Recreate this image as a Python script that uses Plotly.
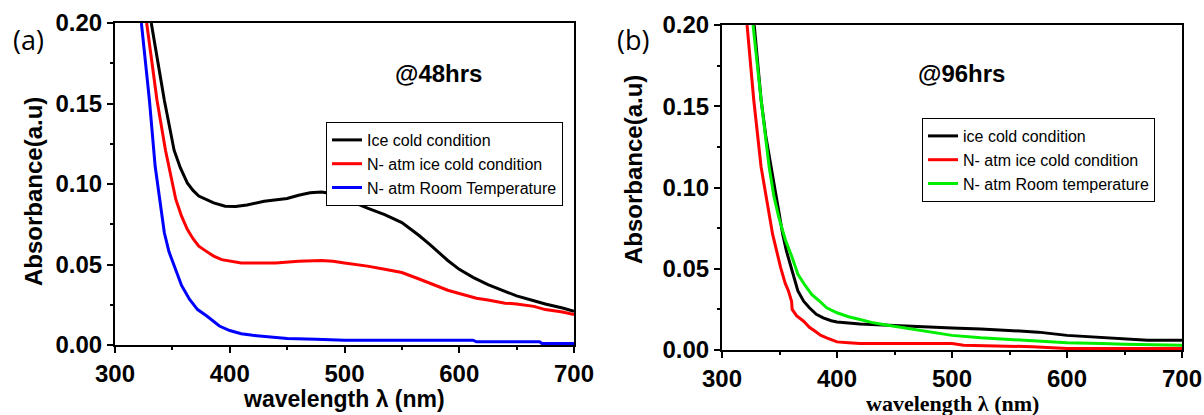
import plotly.graph_objects as go

# ---- Panel (a): 48 h ----
a_ice_x = [331.6, 337, 343, 351.5, 357, 363, 368, 373, 380, 386, 396, 405, 415, 430, 450, 460, 470,
           480, 490, 500, 510, 520, 535, 550, 565, 575, 590, 600, 612, 625, 640, 650, 665, 675, 690, 700]
a_ice_y = [0.200, 0.176, 0.152, 0.121, 0.110, 0.1007, 0.096, 0.0925, 0.090, 0.0883, 0.0862, 0.086,
           0.087, 0.0893, 0.091, 0.093, 0.0945, 0.095, 0.094, 0.0908, 0.0880, 0.0850, 0.0810, 0.0760,
           0.0680, 0.0620, 0.0525, 0.0470, 0.0420, 0.0375, 0.0330, 0.0305, 0.0275, 0.0255, 0.0230, 0.0210]

a_n2ice_x = [327.6, 332, 336.6, 344, 353, 358, 363, 368, 373, 380, 386, 393, 400, 410, 440, 450, 460,
             480, 490, 500, 520, 535, 550, 565, 575, 590, 600, 615, 625, 640, 650, 665, 675, 690, 700]
a_n2ice_y = [0.200, 0.176, 0.152, 0.121, 0.0904, 0.080, 0.0718, 0.066, 0.0614, 0.058, 0.0552, 0.053,
             0.052, 0.051, 0.051, 0.0515, 0.052, 0.0525, 0.052, 0.051, 0.049, 0.047, 0.045, 0.041,
             0.038, 0.034, 0.032, 0.029, 0.028, 0.026, 0.0255, 0.024, 0.022, 0.0205, 0.019]

a_n2rt_x = [323, 326.5, 330, 335, 339, 343, 347, 351.5, 358, 365, 372, 380, 391, 400, 410, 420, 435,
            450, 475, 500, 550, 600, 612, 615, 670, 672, 700]
a_n2rt_y = [0.200, 0.176, 0.152, 0.111, 0.090, 0.0697, 0.058, 0.049, 0.037, 0.0283, 0.022, 0.018,
            0.0118, 0.009, 0.007, 0.006, 0.005, 0.004, 0.0035, 0.003, 0.003, 0.003, 0.003, 0.002,
            0.002, 0.001, 0.001]

# ---- Panel (b): 96 h ----
b_ice_x = [328, 334, 338, 342.7, 348, 352.8, 356, 360, 363, 366, 371, 376, 382, 388, 395, 400, 420,
           450, 475, 500, 525, 550, 575, 600, 625, 650, 670, 700]
b_ice_y = [0.200, 0.154, 0.132, 0.1126, 0.091, 0.0713, 0.061, 0.0507, 0.043, 0.0363, 0.030, 0.026,
           0.022, 0.0198, 0.018, 0.0173, 0.016, 0.015, 0.0145, 0.0135, 0.013, 0.012, 0.011, 0.009,
           0.008, 0.007, 0.006, 0.006]

b_n2ice_x = [321.8, 327.6, 334, 339, 344, 351, 355, 357.8, 360, 360.5, 361, 365, 371, 376, 381, 386,
             391, 400, 410, 420, 500, 510, 570, 600, 700]
b_n2ice_y = [0.200, 0.154, 0.1126, 0.092, 0.0713, 0.0507, 0.041, 0.0363, 0.032, 0.030, 0.025, 0.021,
             0.0177, 0.014, 0.0115, 0.009, 0.0074, 0.005, 0.0045, 0.004, 0.004, 0.003, 0.002, 0.001,
             0.001]

b_n2rt_x = [327, 334, 341, 345, 349.4, 355, 361, 366, 372, 378, 385, 391, 400, 410, 420, 430, 440,
            455, 470, 485, 500, 525, 550, 575, 600, 630, 650, 700]
b_n2rt_y = [0.200, 0.154, 0.1126, 0.095, 0.0816, 0.068, 0.0569, 0.0466, 0.040, 0.0342, 0.030, 0.026,
            0.0229, 0.0205, 0.0188, 0.017, 0.0157, 0.014, 0.0125, 0.0105, 0.009, 0.0075, 0.0065,
            0.0055, 0.0045, 0.004, 0.0035, 0.003]

x_ticks = [300, 400, 500, 600, 700]
y_ticks = [0.00, 0.05, 0.10, 0.15, 0.20]

W, H = 1204, 415
LW = 3

fig = go.Figure()

series_a = [
    ("Ice cold condition", a_ice_x, a_ice_y, "#000000"),
    ("N- atm ice cold condition", a_n2ice_x, a_n2ice_y, "#ff0000"),
    ("N- atm Room Temperature", a_n2rt_x, a_n2rt_y, "#0000ff"),
]
series_b = [
    ("ice cold condition", b_ice_x, b_ice_y, "#000000"),
    ("N- atm ice cold condition", b_n2ice_x, b_n2ice_y, "#ff0000"),
    ("N- atm Room temperature", b_n2rt_x, b_n2rt_y, "#00ee00"),
]

for name, xs, ys, col in series_a:
    fig.add_trace(go.Scatter(x=xs, y=ys, mode="lines", name=name, xaxis="x", yaxis="y",
                             line=dict(color=col, width=LW), legend="legend"))
for name, xs, ys, col in series_b:
    fig.add_trace(go.Scatter(x=xs, y=ys, mode="lines", name=name, xaxis="x2", yaxis="y2",
                             line=dict(color=col, width=LW), legend="legend2"))

tickfont = dict(family="Liberation Sans", size=24, color="black", weight="bold")


def xaxis_style(domain, anchor):
    return dict(domain=domain, anchor=anchor, range=[300, 700], tickvals=x_ticks,
                automargin=False,
                showline=True, mirror=True, linecolor="black", linewidth=2,
                ticks="outside", ticklen=6, tickwidth=2, tickcolor="black",
                minor=dict(dtick=50, ticks="outside", ticklen=3, tickwidth=2, tickcolor="black"),
                showgrid=False, zeroline=False, tickfont=tickfont)


def yaxis_style(domain, anchor):
    return dict(domain=domain, anchor=anchor, range=[0, 0.2], tickvals=y_ticks, tickformat=".2f",
                automargin=False,
                showline=True, mirror=True, linecolor="black", linewidth=2,
                ticks="outside", ticklen=6, tickwidth=2, tickcolor="black",
                minor=dict(dtick=0.025, ticks="outside", ticklen=3, tickwidth=2, tickcolor="black"),
                showgrid=False, zeroline=False, tickfont=tickfont)


legend_common = dict(bgcolor="white", bordercolor="black", borderwidth=1,
                     font=dict(family="Liberation Sans", size=16, color="black"),
                     xanchor="left", yanchor="top", tracegroupgap=0, itemwidth=30)

fig.update_layout(
    template="none",
    width=W, height=H,
    margin=dict(l=0, r=0, t=0, b=0, pad=0),
    paper_bgcolor="white", plot_bgcolor="white",
    showlegend=True,
    xaxis=xaxis_style([115 / W, 574 / W], "y"),
    yaxis=yaxis_style([1 - 345 / H, 1 - 23 / H], "x"),
    xaxis2=xaxis_style([722 / W, 1182 / W], "y2"),
    yaxis2=yaxis_style([1 - 350 / H, 1 - 25 / H], "x2"),
    legend=dict(x=326 / W, y=1 - 122 / H, **legend_common),
    legend2=dict(x=922 / W, y=1 - 118 / H, **legend_common),
)

bold = dict(family="Liberation Sans", size=24, color="black", weight="bold")
annotations = [
    dict(text="(a)", x=28 / W, y=1 - 39 / H, font=dict(family="Open Sans", size=27, color="black")),
    dict(text="(b)", x=633 / W, y=1 - 40 / H, font=dict(family="Open Sans", size=27, color="black")),
    dict(text="@48hrs", x=438 / W, y=1 - 73 / H, font=bold),
    dict(text="@96hrs", x=961 / W, y=1 - 74 / H, font=bold),
    dict(text="Absorbance(a.u)", x=33 / W, y=1 - 192 / H, textangle=-90, font=bold),
    dict(text="Absorbance(a.u)", x=633 / W, y=1 - 170 / H, textangle=-90, font=bold),
    dict(text="wavelength λ (nm)", x=344 / W, y=1 - 399 / H,
         font=dict(family="Liberation Sans", size=23, color="black", weight="bold")),
    dict(text="wavelength λ (nm)", x=952 / W, y=1 - 403 / H,
         font=dict(family="Liberation Serif", size=22, color="black", weight="bold")),
]
for a in annotations:
    a.update(xref="paper", yref="paper", showarrow=False, xanchor="center", yanchor="middle")
fig.update_layout(annotations=annotations)

fig.write_html("out.html")
